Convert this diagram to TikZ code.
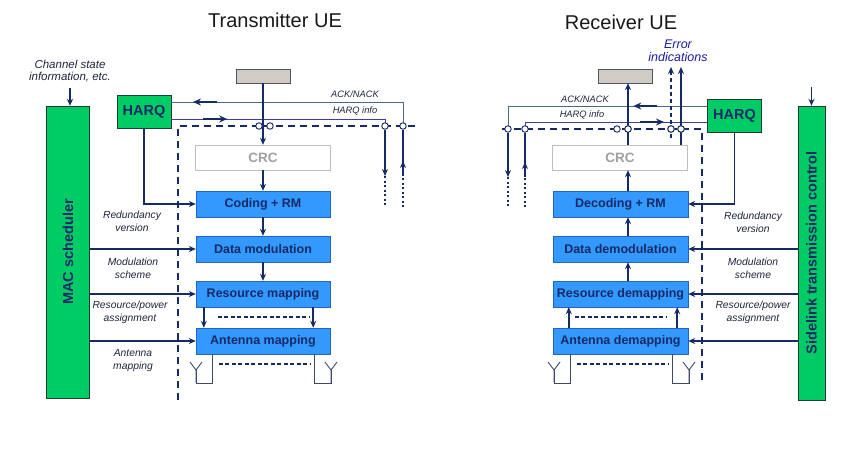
\documentclass[tikz,border=0pt]{standalone}
\usepackage{fontspec}
\setmainfont{Liberation Sans}
\usepackage{tikz}
\usetikzlibrary{arrows.meta, calc, decorations.markings}

\definecolor{navy}{RGB}{22,42,102}
\definecolor{blkfill}{RGB}{51,153,255}
\definecolor{blkline}{RGB}{36,100,190}
\definecolor{grn}{RGB}{0,204,102}
\definecolor{grnline}{RGB}{35,60,45}
\definecolor{crcline}{RGB}{190,190,190}
\definecolor{crctext}{RGB}{160,160,160}
\definecolor{srcfill}{RGB}{208,204,196}
\definecolor{srcline}{RGB}{80,85,100}
\definecolor{acklin}{RGB}{75,105,135}
\definecolor{infolin}{RGB}{60,60,175}
\definecolor{antcol}{RGB}{60,75,100}
\definecolor{labtext}{RGB}{30,35,60}
\definecolor{errblue}{RGB}{25,25,170}

\begin{document}
\begin{tikzpicture}[x=1pt,y=-1pt,>={Stealth[length=7pt,width=6pt]},
    conn/.style={draw=navy,line width=1.5pt},
    thin line/.style={draw=acklin,line width=0.9pt},
    info line/.style={draw=infolin,line width=0.9pt},
    frame/.style={draw=navy,line width=2.4pt,dash pattern=on 7pt off 5pt},
    dots/.style={draw=navy,line width=1.5pt,dash pattern=on 2pt off 2.5pt},
    gap/.style={draw=navy,line width=1.5pt,dash pattern=on 4pt off 2.5pt},
    feed/.style={draw=antcol,line width=0.9pt},
    blk/.style={draw=blkline,fill=blkfill,text=navy,font=\bfseries\fontsize{12.5}{14}\selectfont,
                minimum width=134pt,minimum height=26pt,inner sep=0pt},
    ctrl/.style={draw=grnline,fill=grn,minimum width=43pt,inner sep=0pt},
    harq/.style={draw=grnline,fill=grn,text=navy,font=\bfseries\fontsize{14.5}{16}\selectfont,
                 minimum width=54pt,minimum height=33pt,inner sep=0pt},
    crc/.style={draw=crcline,fill=white,text=crctext,font=\bfseries\fontsize{13.5}{15}\selectfont,
                minimum width=135pt,minimum height=25pt,inner sep=0pt},
    src/.style={draw=srcline,fill=srcfill,minimum width=54pt,minimum height=14pt,inner sep=0pt},
    jn/.style={circle,draw=navy,fill=white,line width=0.9pt,minimum size=6.5pt,inner sep=0pt},
    lab/.style={font=\itshape\fontsize{10.3}{12.8}\selectfont,text=labtext,align=center},
    title/.style={font=\fontsize{20}{24}\selectfont,text=black!90},
    bigarr/.style={postaction={decorate},decoration={markings,mark=at position #1 with
                   {\draw[navy,line width=2pt,-{Stealth[length=8pt,width=7pt]}] (-24pt,0) -- (0,0);}}},
    tipat/.style={postaction={decorate},decoration={markings,mark=at position #1 with
                  {\draw[navy,line width=1.5pt,-{Stealth[length=7pt,width=6pt]}] (-2pt,0) -- (0,0);}}},
    antenna/.pic={\draw[feed] (0,0) -- (0,13) (-6,-8) -- (0,0) -- (6,-8);}]

  \useasboundingbox (0,0) rectangle (844,450);

  % ---------------- transmitter ----------------
  \node[title] (ttlT) at (275,20) {Transmitter UE};

  \node[ctrl,minimum height=292pt,
        label={[rotate=90,text=navy,font=\bfseries\fontsize{14.5}{16}\selectfont]center:MAC scheduler}]
        (macT) at (68,252) {};
  \node[lab,font=\itshape\fontsize{11.5}{12.5}\selectfont] (csiT) at (70,71) {Channel state\\information, etc.};
  \node[harq] (harqT) at (144,112) {HARQ};
  \node[src] (gbT) at (263,76) {};
  \node[crc] (crcT) at (263,157.5) {CRC};
  \node[blk] (codT) at (263,204) {Coding + RM};
  \node[blk] (modT) at (263,249) {Data modulation};
  \node[blk] (resT) at (263,294) {Resource mapping};
  \node[blk] (antT) at (263,341) {Antenna mapping};

  \node[lab] (l1T) at (132,221.5) {Redundancy\\version};
  \node[lab] (l2T) at (133,268.5) {Modulation\\scheme};
  \node[lab] (l3T) at (130,312) {Resource/power\\assignment};
  \node[lab] (l4T) at (133,360.5) {Antenna\\mapping};
  \node[lab,font=\itshape\fontsize{9.3}{11}\selectfont] (ackLT) at (355,94) {ACK/NACK};
  \node[lab,font=\itshape\fontsize{9.3}{11}\selectfont] (infLT) at (355,111) {HARQ info};

  \coordinate (ackT) at (403,102);
  \coordinate (hiT) at (385,119);
  \coordinate (dnT) at (385,176);
  \coordinate (dnTe) at (385,207);
  \coordinate (upT) at (403,176);
  \coordinate (upTe) at (403,207);
  \coordinate (aT1) at (196,370);
  \coordinate (aT2) at (331,370);

  \draw[frame] (178,400) -- (178,126) -- (417,126);

  \draw[conn,->] (csiT.south |- 0,88) -- (macT.north -| csiT.south);
  \draw[thin line,bigarr=234pt] (ackT |- 0,126) -- (ackT) -- (ackT -| harqT.east);
  \draw[info line,bigarr=56pt] (hiT -| harqT.east) -- (hiT) -- (hiT |- 0,126);
  \draw[conn,->] (gbT) -- (crcT);
  \draw[conn,->] (crcT) -- (codT);
  \draw[conn,->] (codT) -- (modT);
  \draw[conn,->] (modT) -- (resT);
  \draw[conn,->] ([xshift=8pt]resT.south west) -- ([xshift=8pt]antT.north west);
  \draw[conn,->] ([xshift=-17pt]resT.south east) -- ([xshift=-17pt]antT.north east);
  \draw[gap] ([xshift=22pt,yshift=-10pt]resT.south west) -- ([xshift=-21pt,yshift=-10pt]resT.south east);
  \draw[gap] ([xshift=23pt,yshift=-10pt]antT.south west) -- ([xshift=-20pt,yshift=-10pt]antT.south east);

  \draw[conn,->] (harqT.south) |- (codT.west);
  \draw[conn,->] (macT.east |- modT) -- (modT.west);
  \draw[conn,->] (macT.east |- resT) -- (resT.west);
  \draw[conn,->] (macT.east |- antT) -- (antT.west);

  \draw[feed] ([xshift=17pt]antT.south west) |- ($(aT1)+(0,13)$) -- (aT1);
  \draw[feed] ([xshift=-16pt]antT.south east) |- ($(aT2)+(0,13)$) -- (aT2);
  \pic at (aT1) {antenna};
  \pic at (aT2) {antenna};

  \node[jn] (jT1) at (259,126) {};
  \node[jn] (jT2) at (270,126) {};
  \node[jn] (jT3) at (385,126) {};
  \node[jn] (jT4) at (403,126) {};
  \draw[conn,->] (jT3) -- (dnT);
  \draw[dots] (dnT) -- (dnTe);
  \draw[conn,tipat=15pt] (upT) -- (jT4);
  \draw[dots] (upTe) -- (upT);

  % ---------------- receiver ----------------
  \node[title] (ttlR) at (621,22) {Receiver UE};

  \node[ctrl,minimum width=27pt,minimum height=294pt,
        label={[rotate=90,text=navy,font=\bfseries\fontsize{14.5}{16}\selectfont]center:Sidelink transmission control}]
        (slR) at (811.5,253) {};
  \node[harq] (harqR) at (734.5,116) {HARQ};
  \node[src] (gbR) at (625,76) {};
  \node[crc] (crcR) at (620,157.5) {CRC};
  \node[blk,minimum width=135pt] (decR) at (620.5,204) {Decoding + RM};
  \node[blk,minimum width=135pt] (dmR) at (620.5,249) {Data demodulation};
  \node[blk,minimum width=135pt] (rdR) at (620.5,294) {Resource demapping};
  \node[blk,minimum width=135pt] (adR) at (620.5,341) {Antenna demapping};

  \node[lab] (l1R) at (753,222) {Redundancy\\version};
  \node[lab] (l2R) at (753,268) {Modulation\\scheme};
  \node[lab] (l3R) at (753,312) {Resource/power\\assignment};
  \node[lab,font=\itshape\fontsize{9.3}{11}\selectfont] (ackLR) at (585,99) {ACK/NACK};
  \node[lab,font=\itshape\fontsize{9.3}{11}\selectfont] (infLR) at (582,115) {HARQ info};
  \node[lab,text=errblue,font=\itshape\fontsize{12.5}{13}\selectfont] (errR) at (678,50.5) {Error\\indications};

  \coordinate (ackR) at (508,106);
  \coordinate (hiR) at (525,122);
  \coordinate (dnR) at (508,177);
  \coordinate (dnRe) at (508,207);
  \coordinate (upR) at (525,177);
  \coordinate (upRe) at (525,207);
  \coordinate (eR1) at (671,67);
  \coordinate (eR2) at (681,67);
  \coordinate (eR1s) at (671,138);
  \coordinate (aR1) at (554,370);
  \coordinate (aR2) at (689,370);

  \draw[frame] (502,129) -- (702,129) -- (702,382);

  \draw[conn,->] (slR.north |- 0,87) -- (slR.north);
  \draw[thin line,bigarr=74pt] (ackR -| harqR.west) -- (ackR) -- (ackR |- 0,129);
  \draw[info line,bigarr=146pt] (hiR |- 0,129) -- (hiR) -- (hiR -| harqR.west);

  \node[jn] (jR1) at (508,129) {};
  \node[jn] (jR2) at (525,129) {};
  \node[jn] (jR3) at (617,129) {};
  \node[jn] (jR4) at (628,129) {};
  \node[jn] (jR5) at (671,129) {};
  \node[jn] (jR6) at (681,129) {};

  \draw[conn,->] (decR.north -| jR4) -- (crcR.south -| jR4);
  \draw[conn,->] (crcR.north -| jR4) -- (gbR.south -| jR4);
  \draw[conn,->] (crcR.north -| jR6) -- (eR2);
  \draw[gap,->,dash pattern=on 4pt off 3pt] (eR1s) -- (eR1);
  \node[jn] at (jR4) {};
  \node[jn] at (jR5) {};
  \node[jn] at (jR6) {};

  \draw[conn,->] (dmR.north -| jR4) -- (decR.south -| jR4);
  \draw[conn,->] (rdR.north -| jR4) -- (dmR.south -| jR4);
  \draw[conn,->] ([xshift=16pt]adR.north west) -- ([xshift=16pt]rdR.south west);
  \draw[conn,->] ([xshift=-11pt]adR.north east) -- ([xshift=-11pt]rdR.south east);
  \draw[gap] ([xshift=22pt,yshift=-10pt]rdR.south west) -- ([xshift=-22pt,yshift=-10pt]rdR.south east);
  \draw[gap] ([xshift=24pt,yshift=-10pt]adR.south west) -- ([xshift=-19pt,yshift=-10pt]adR.south east);

  \draw[conn,->] (harqR.south) |- (decR.east);
  \draw[conn,->] (slR.west |- dmR) -- (dmR.east);
  \draw[conn,->] (slR.west |- rdR) -- (rdR.east);
  \draw[conn,->] (slR.west |- adR) -- (adR.east);

  \draw[feed] ([xshift=18pt]adR.south west) |- ($(aR1)+(0,13)$) -- (aR1);
  \draw[feed] ([xshift=-16pt]adR.south east) |- ($(aR2)+(0,13)$) -- (aR2);
  \pic at (aR1) {antenna};
  \pic at (aR2) {antenna};

  \draw[conn,->] (jR1) -- (dnR);
  \draw[dots] (dnR) -- (dnRe);
  \draw[conn,tipat=15pt] (upR) -- (jR2);
  \draw[dots] (upRe) -- (upR);
\end{tikzpicture}
\end{document}
